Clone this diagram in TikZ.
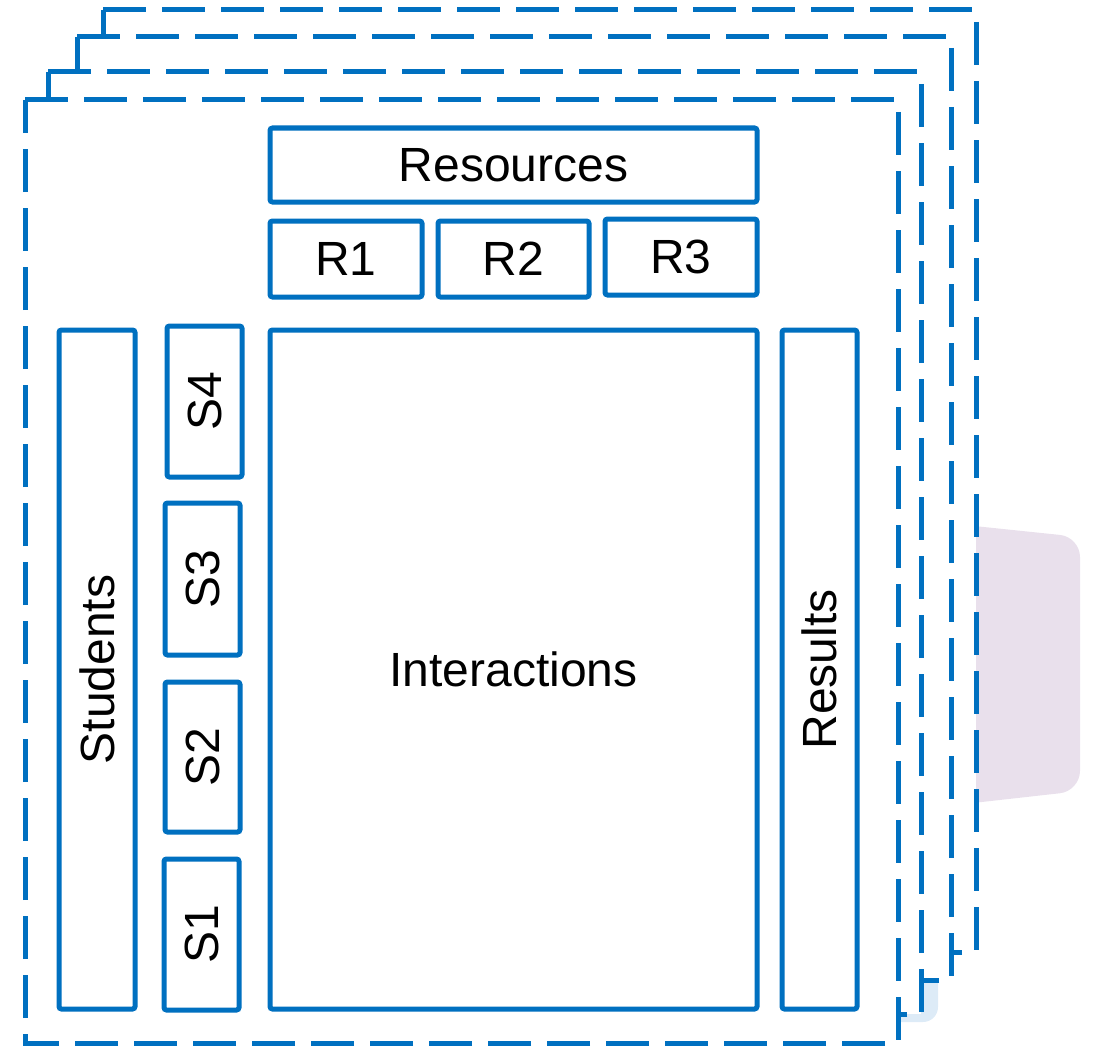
\documentclass[tikz,border=0pt]{standalone}
\usepackage{fontspec}
\setmainfont{Liberation Sans}
\begin{document}
\begin{tikzpicture}[x=1pt,y=-1pt,
  layer/.style={draw=bluec, fill=white, line width=5pt, dash pattern=on 43pt off 16pt, line cap=butt},
  box/.style={draw=bluec, line width=5pt, rounded corners=2.5pt, inner sep=0pt, fill=white,
     font=\fontsize{48}{52}\selectfont, text=black},
]
\definecolor{bluec}{HTML}{0070C0}
\definecolor{tabc}{HTML}{E9E0EC}
\definecolor{lbc}{HTML}{DDEBF7}
\useasboundingbox (0,0) rectangle (1102,1046);
% tab
\fill[tabc, rounded corners=20pt] (955,524) -- (1080,537) -- (1080,791) -- (955,805) -- cycle;
% layers back to front
\draw[layer] (103,10) -- (976,10) -- (976,952) -- (103,952) -- cycle;
\fill[lbc, rounded corners=15pt] (860,900) rectangle (938,1022);
\draw[layer] (77,37) -- (951,37) -- (951,980) -- (77,980) -- cycle;
\draw[layer] (48,72) -- (921,72) -- (921,1014) -- (48,1014) -- cycle;
\draw[layer] (25,100) -- (898,100) -- (898,1043) -- (25,1043) -- cycle;
% boxes
\node[box, minimum width=487pt, minimum height=74pt] (res) at (513.5,165) {Resources};
\node[box, minimum width=152pt, minimum height=76pt] (r1) at (346,259) {R1};
\node[box, minimum width=151pt, minimum height=76pt] (r2) at (513.5,259) {R2};
\node[box, minimum width=152pt, minimum height=76pt] (r3) at (681,257) {R3};
\node[box, minimum width=487pt, minimum height=679pt] (inter) at (513.5,669.5) {Interactions};
\node[box, rotate=90, minimum width=679pt, minimum height=76pt] (stud) at (97,669.5) {Students};
\node[box, rotate=90, minimum width=679pt, minimum height=75pt] (resl) at (819.5,669.5) {Results};
\node[box, rotate=90, minimum width=151pt, minimum height=75pt] (s4) at (204.5,401.5) {S4};
\node[box, rotate=90, minimum width=152pt, minimum height=75pt] (s3) at (202.5,579) {S3};
\node[box, rotate=90, minimum width=150pt, minimum height=75pt] (s2) at (202.5,757) {S2};
\node[box, rotate=90, minimum width=151pt, minimum height=75pt] (s1) at (201.5,934.5) {S1};
\end{tikzpicture}
\end{document}
